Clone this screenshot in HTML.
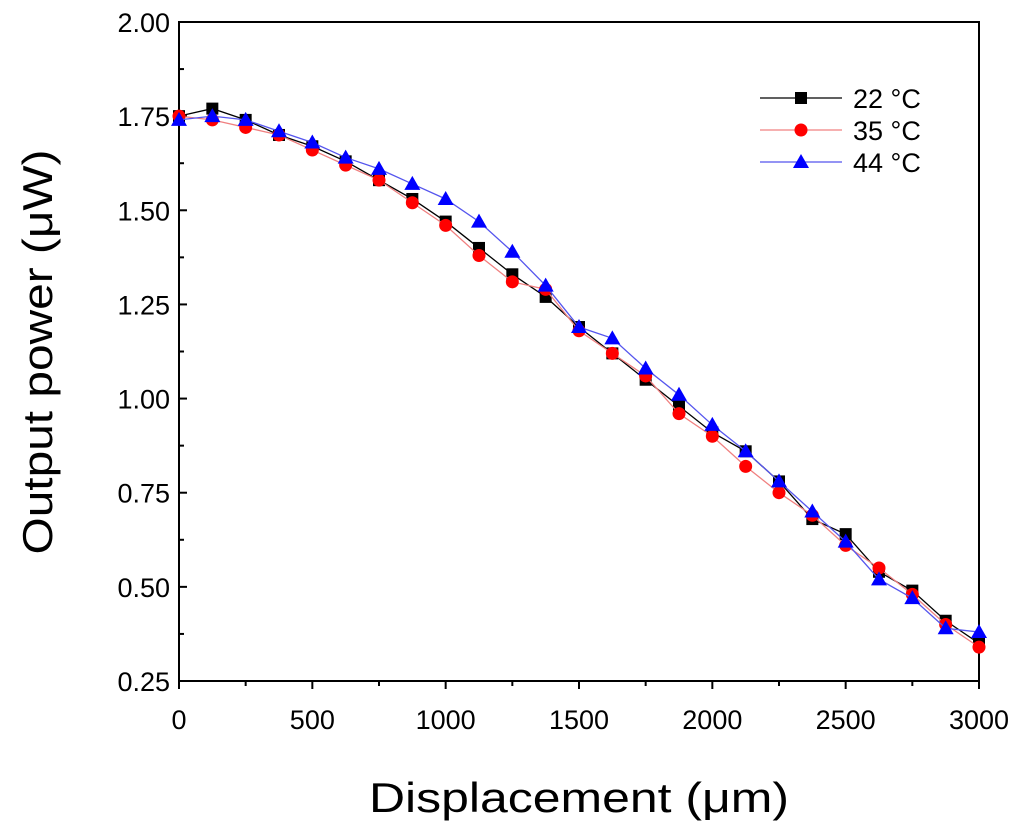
<!DOCTYPE html>
<html><head><meta charset="utf-8"><style>
html,body{margin:0;padding:0;background:#fff;}
svg{display:block;font-family:"Liberation Sans",Arial,sans-serif;}
</style></head><body>
<svg id="chart" width="1024" height="823" viewBox="0 0 1024 823"></svg>
<script>
const xValues=[0,125,250,375,500,625,750,875,1000,1125,1250,1375,1500,1625,1750,1875,2000,2125,2250,2375,2500,2625,2750,2875,3000];
const series22=[1.75,1.77,1.74,1.70,1.67,1.63,1.58,1.53,1.47,1.40,1.33,1.27,1.19,1.12,1.05,0.98,0.91,0.86,0.78,0.68,0.64,0.54,0.49,0.41,0.35];
const series35=[1.75,1.74,1.72,1.70,1.66,1.62,1.58,1.52,1.46,1.38,1.31,1.29,1.18,1.12,1.06,0.96,0.90,0.82,0.75,0.69,0.61,0.55,0.48,0.40,0.34];
const series44=[1.74,1.75,1.74,1.71,1.68,1.64,1.61,1.57,1.53,1.47,1.39,1.30,1.19,1.16,1.08,1.01,0.93,0.86,0.78,0.70,0.62,0.52,0.47,0.39,0.38];
const xTicks=[0,500,1000,1500,2000,2500,3000];
const yTicks=[0.25,0.50,0.75,1.00,1.25,1.50,1.75,2.00];
const seriesNames=["22 °C","35 °C","44 °C"];

const NS="http://www.w3.org/2000/svg";
const svg=document.getElementById('chart');
const L=179,R=979,T=22,B=681;
const xMin=0,xMax=3000,yMin=0.25,yMax=2.0;
function sx(v){return L+(v-xMin)/(xMax-xMin)*(R-L);}
function sy(v){return B-(v-yMin)/(yMax-yMin)*(B-T);}
function el(tag,attrs,parent){const e=document.createElementNS(NS,tag);for(const k in attrs)e.setAttribute(k,attrs[k]);(parent||svg).appendChild(e);return e;}

const frame=el('rect',{x:L,y:T,width:R-L,height:B-T,fill:'none',stroke:'#000','stroke-width':2});



for(let v=0;v<=3000;v+=250){
  const major=v%500===0;
  const t=el('line',{x1:sx(v),x2:sx(v),y1:B,y2:B+(major?8:5),stroke:'#000','stroke-width':2});
  
  
}
xTicks.forEach(v=>{
  const t=el('text',{x:sx(v),y:B+48,'text-anchor':'middle','font-size':27,fill:'#000'});
  t.textContent=v;
  
  
});
for(let i=0;i<=14;i++){
  const v=0.25+i*0.125;
  const major=i%2===0;
  const t=el('line',{x1:L,x2:L+(major?8:5),y1:sy(v),y2:sy(v),stroke:'#000','stroke-width':2});
  
  
}
yTicks.forEach(v=>{
  const t=el('text',{x:L-9,y:sy(v)+10,'text-anchor':'end','font-size':27,fill:'#000'});
  t.textContent=v.toFixed(2);
  
  
});
const xt=el('text',{x:(L+R)/2,y:812,'text-anchor':'middle','font-size':42,fill:'#000',textLength:420,lengthAdjust:'spacingAndGlyphs'});
xt.textContent='Displacement (μm)';


const yt=el('text',{x:0,y:0,'text-anchor':'middle','font-size':42,fill:'#000',textLength:405,lengthAdjust:'spacingAndGlyphs',transform:`translate(52,352) rotate(-90)`});
yt.textContent='Output power (μW)';



function marker(type,x,y,color,g){
  let m;
  if(type==='sq') m=el('rect',{x:x-6,y:y-6,width:12,height:12,fill:color},g);
  else if(type==='ci') m=el('circle',{cx:x,cy:y,r:6.5,fill:color},g);
  else m=el('polygon',{points:`${x},${y-8} ${x+8},${y+6} ${x-8},${y+6}`,fill:color},g);
  return m;
}
const defs=[[series22,'#000','#000','sq'],[series35,'#f08080','#ff0000','ci'],[series44,'#5555ee','#0000ff','tr']];
defs.forEach((d,si)=>{
  const g=el('g',{});
  
  
  const pts=xValues.map((x,i)=>sx(x)+','+sy(d[0][i])).join(' ');
  const pl=el('polyline',{points:pts,fill:'none',stroke:d[1],'stroke-width':1.3},g);
  
  
  xValues.forEach((x,i)=>{
    const m=marker(d[3],sx(x),sy(d[0][i]),d[2],g);
    
    
  });
  const ly=98+si*32;
  const lg=el('g',{});
  
  
  el('line',{x1:760,x2:842,y1:ly,y2:ly,stroke:d[1],'stroke-width':1.3},lg);
  marker(d[3],801,ly,d[2],lg);
  const tx=el('text',{x:853,y:ly+10,'font-size':27,fill:'#000'},lg);
  tx.textContent=seriesNames[si];
});
</script>
</body></html>
